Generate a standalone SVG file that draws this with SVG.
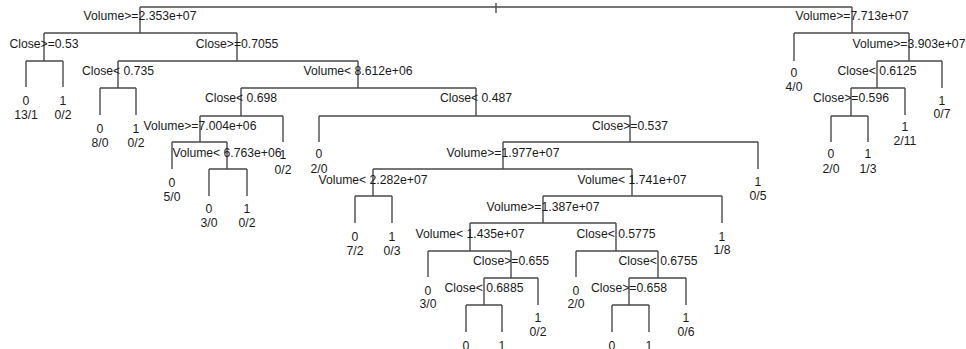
<svg xmlns="http://www.w3.org/2000/svg" width="966" height="349" viewBox="0 0 966 349">
<style>
.c{stroke:#4a4a4a;stroke-width:1.4;fill:none}
text{font-family:"Liberation Sans",Arial,sans-serif;font-size:12.2px;fill:#1a1a1a;text-anchor:middle}
</style>
<rect width="966" height="349" fill="#fff"/>
<g id="connectors" class="c">
<path d="M496 3V13M140 7H852"/>
<path d="M140 7V33M44 33H237"/>
<path d="M44 33V61M26 61H63M26 61V87M63 61V87"/>
<path d="M237 33V61M118 61H358"/>
<path d="M118 61V88M100 88H136M100 88V115M136 88V115"/>
<path d="M358 61V88M241 88H476"/>
<path d="M241 88V116M200 116H283M283 116V142"/>
<path d="M200 116V142M172 142H227M172 142V169"/>
<path d="M227 142V169M209 169H247M209 169V196M247 169V196"/>
<path d="M476 88V116M319 116H630M319 116V142"/>
<path d="M630 116V142M503 142H758M758 142V169"/>
<path d="M503 142V169M373 169H632"/>
<path d="M373 169V196M355 196H392M355 196V223M392 196V223"/>
<path d="M632 169V196M543 196H722M722 196V223"/>
<path d="M543 196V223M470 223H616"/>
<path d="M470 223V251M428 251H511M428 251V277"/>
<path d="M511 251V278M484 278H538M538 278V305"/>
<path d="M484 278V305M466 305H502M466 305V332M502 305V332"/>
<path d="M616 223V251M576 251H658M576 251V277"/>
<path d="M658 251V278M629 278H686M686 278V305"/>
<path d="M629 278V305M612 305H649M612 305V332M649 305V332"/>
<path d="M852 7V33M794 33H909M794 33V61"/>
<path d="M909 33V61M877 61H942M942 61V88"/>
<path d="M877 61V88M851 88H905M905 88V115"/>
<path d="M851 88V116M831 116H868M831 116V142M868 116V142"/>
</g>
<g id="n2"><text x="140" y="20">Volume&gt;=2.353e+07</text></g>
<g id="n4"><text x="44" y="48">Close&gt;=0.53</text></g>
<g id="n5"><text x="237" y="48">Close&gt;=0.7055</text></g>
<g id="n10"><text x="118" y="75">Close&lt; 0.735</text></g>
<g id="n11"><text x="358" y="75">Volume&lt; 8.612e+06</text></g>
<g id="n22"><text x="241" y="102">Close&lt; 0.698</text></g>
<g id="n23"><text x="476" y="102">Close&lt; 0.487</text></g>
<g id="n44"><text x="200" y="130">Volume&gt;=7.004e+06</text></g>
<g id="n89"><text x="227" y="157">Volume&lt; 6.763e+06</text></g>
<g id="n47"><text x="630" y="130">Close&gt;=0.537</text></g>
<g id="n94"><text x="503" y="157">Volume&gt;=1.977e+07</text></g>
<g id="n188"><text x="373" y="184">Volume&lt; 2.282e+07</text></g>
<g id="n189"><text x="632" y="184">Volume&lt; 1.741e+07</text></g>
<g id="n378"><text x="543" y="211">Volume&gt;=1.387e+07</text></g>
<g id="n756"><text x="470" y="238">Volume&lt; 1.435e+07</text></g>
<g id="n757"><text x="616" y="238">Close&lt; 0.5775</text></g>
<g id="n1513"><text x="511" y="265">Close&gt;=0.655</text></g>
<g id="n1515"><text x="658" y="265">Close&lt; 0.6755</text></g>
<g id="n3026"><text x="484" y="292">Close&lt; 0.6885</text></g>
<g id="n3030"><text x="629" y="292">Close&gt;=0.658</text></g>
<g id="n3"><text x="852" y="20">Volume&gt;=7.713e+07</text></g>
<g id="n7"><text x="909" y="48">Volume&gt;=3.903e+07</text></g>
<g id="n14"><text x="877" y="75">Close&lt; 0.6125</text></g>
<g id="n28"><text x="851" y="102">Close&gt;=0.596</text></g>
<g id="leaf1"><text x="26" y="105">0</text><text x="26" y="119">13/1</text></g>
<g id="leaf2"><text x="63" y="105">1</text><text x="63" y="119">0/2</text></g>
<g id="leaf3"><text x="100" y="133">0</text><text x="100" y="147">8/0</text></g>
<g id="leaf4"><text x="136" y="133">1</text><text x="136" y="147">0/2</text></g>
<g id="leaf5"><text x="172" y="187">0</text><text x="172" y="201">5/0</text></g>
<g id="leaf6"><text x="209" y="213">0</text><text x="209" y="227">3/0</text></g>
<g id="leaf7"><text x="247" y="213">1</text><text x="247" y="227">0/2</text></g>
<g id="leaf8"><text x="283" y="159">1</text><text x="283" y="174">0/2</text></g>
<g id="leaf9"><text x="319" y="158">0</text><text x="319" y="173">2/0</text></g>
<g id="leaf10"><text x="355" y="241">0</text><text x="355" y="255">7/2</text></g>
<g id="leaf11"><text x="392" y="241">1</text><text x="392" y="255">0/3</text></g>
<g id="leaf12"><text x="758" y="186">1</text><text x="758" y="200">0/5</text></g>
<g id="leaf13"><text x="722" y="241">1</text><text x="722" y="254">1/8</text></g>
<g id="leaf14"><text x="428" y="295">0</text><text x="428" y="308">3/0</text></g>
<g id="leaf15"><text x="538" y="322">1</text><text x="538" y="336">0/2</text></g>
<g id="leaf16"><text x="576" y="295">0</text><text x="576" y="308">2/0</text></g>
<g id="leaf17"><text x="686" y="322">1</text><text x="686" y="336">0/6</text></g>
<g id="leaf18"><text x="466" y="350">0</text></g>
<g id="leaf19"><text x="502" y="350">1</text></g>
<g id="leaf20"><text x="612" y="350">0</text></g>
<g id="leaf21"><text x="649" y="350">1</text></g>
<g id="leaf22"><text x="794" y="77">0</text><text x="794" y="91">4/0</text></g>
<g id="leaf23"><text x="942" y="105">1</text><text x="942" y="118">0/7</text></g>
<g id="leaf24"><text x="905" y="131">1</text><text x="905" y="145">2/11</text></g>
<g id="leaf25"><text x="831" y="158">0</text><text x="831" y="173">2/0</text></g>
<g id="leaf26"><text x="868" y="158">1</text><text x="868" y="173">1/3</text></g>
</svg>
